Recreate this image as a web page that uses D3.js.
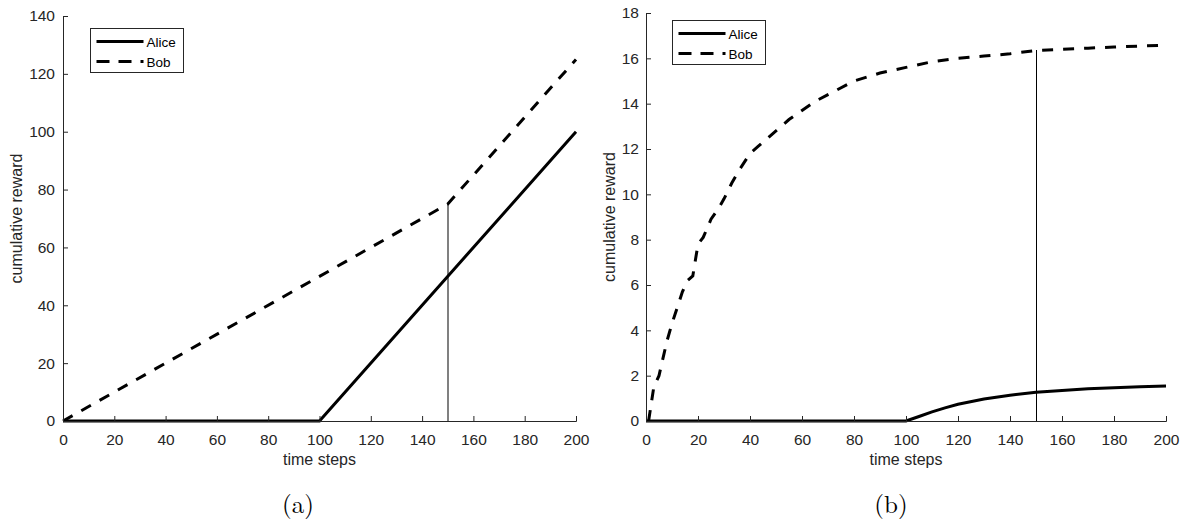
<!DOCTYPE html>
<html>
<head>
<meta charset="utf-8">
<script src="https://cdn.jsdelivr.net/npm/d3@7"></script>
<style>
  body { margin: 0; background: #fff; }
  svg { font-family: "Liberation Sans", Arial, sans-serif; }
</style>
</head>
<body>
<svg id="chart"></svg>
<script>
// panel (a)
const aliceA = [[0, 0], [100, 0], [200, 100]];
const bobA = [[0, 0], [100, 50], [150, 75], [200, 125]];
const markA = 150;

// panel (b)
const aliceBx = [0, 100, 105, 110, 115, 120, 130, 140, 150, 160, 170, 180, 190, 200];
const aliceBy = [0, 0, 0.2, 0.4, 0.58, 0.74, 0.97, 1.14, 1.27, 1.35, 1.42, 1.47, 1.51, 1.54];
const bobBx = [1, 3, 5, 8, 10, 12, 14, 16, 18, 20, 22, 25, 28, 30, 33, 36, 40, 43, 46, 50, 55, 60, 65, 70, 80, 90, 100, 110, 120, 130, 140, 150, 160, 170, 180, 190, 200];
const bobBy = [0, 1.5, 2.0, 3.5, 4.3, 5.0, 5.7, 6.2, 6.4, 7.8, 8.1, 8.9, 9.4, 9.8, 10.5, 11.1, 11.8, 12.1, 12.4, 12.8, 13.3, 13.7, 14.1, 14.4, 15.0, 15.35, 15.6, 15.85, 16.0, 16.1, 16.2, 16.35, 16.4, 16.45, 16.5, 16.54, 16.58];
const markB = 150;

const xTicks = d3.range(0, 201, 20);
const yTicksA = d3.range(0, 141, 20);
const yTicksB = d3.range(0, 19, 2);

const width = 1189, height = 520;
const svg = d3.select("#chart").attr("width", width).attr("height", height);
const axisColor = "#262626";

function panel(opts) {
  const x = d3.scaleLinear().domain([0, 200]).range([opts.left, opts.right]);
  const y = d3.scaleLinear().domain([0, opts.ymax]).range([421, opts.top]);
  const g = svg.append("g");

  const line = d3.line().x(d => x(d[0])).y(d => y(d[1]));

  // marker line at t=150
  g.append("line")
    .attr("x1", x(opts.mark)).attr("x2", x(opts.mark))
    .attr("y1", y(0)).attr("y2", y(opts.markTop))
    .attr("stroke", opts.markColor).attr("stroke-width", opts.markWidth)
    .attr("shape-rendering", "crispEdges");

  g.append("path").datum(opts.bob)
    .attr("fill", "none").attr("stroke", "#000")
    .attr("stroke-width", 3).attr("stroke-dasharray", "11,10")
    .attr("d", line);

  g.append("path").datum(opts.alice)
    .attr("fill", "none").attr("stroke", "#000")
    .attr("stroke-width", 3)
    .attr("d", line);

  const xa = g.append("g")
    .attr("transform", `translate(0,${y(0)})`)
    .call(d3.axisBottom(x).tickValues(xTicks).tickSizeInner(-5).tickSizeOuter(-5).tickPadding(13));
  const ya = g.append("g")
    .attr("transform", `translate(${x(0)},0)`)
    .call(d3.axisLeft(y).tickValues(opts.yTicks).tickSizeInner(-5).tickSizeOuter(-5).tickPadding(opts.yPad));
  [xa, ya].forEach(a => {
    a.selectAll("path, line").attr("stroke", axisColor);
    a.selectAll("text").attr("fill", axisColor).style("font-size", "15.5px");
  });

  g.append("text")
    .attr("x", (opts.left + opts.right) / 2).attr("y", 465)
    .attr("text-anchor", "middle").attr("fill", axisColor)
    .style("font-size", "16px").text("time steps");

  g.append("text")
    .attr("transform", `translate(${opts.left - opts.ylabOff},${(421 + opts.top) / 2}) rotate(-90)`)
    .attr("text-anchor", "middle").attr("fill", axisColor)
    .style("font-size", "16px").text("cumulative reward");

  g.append("text")
    .attr("x", opts.capX).attr("y", 513)
    .attr("text-anchor", "middle").attr("fill", "#000")
    .style("font-family", "'Latin Modern Roman', 'Liberation Serif', serif")
    .style("font-size", "25px").text(opts.caption);

  // legend
  const lg = g.append("g").attr("transform", `translate(${opts.legX},${opts.legY})`);
  lg.append("rect").attr("width", 93).attr("height", 44)
    .attr("fill", "#fff").attr("stroke", axisColor).attr("stroke-width", 1);
  lg.append("line").attr("x1", 6).attr("x2", 53).attr("y1", 13).attr("y2", 13)
    .attr("stroke", "#000").attr("stroke-width", 3);
  lg.append("line").attr("x1", 6).attr("x2", 53).attr("y1", 33).attr("y2", 33)
    .attr("stroke", "#000").attr("stroke-width", 3).attr("stroke-dasharray", "13,9");
  lg.append("text").attr("x", 56).attr("y", 18).attr("fill", "#000")
    .style("font-size", "13.5px").text("Alice");
  lg.append("text").attr("x", 56).attr("y", 38).attr("fill", "#000")
    .style("font-size", "13.5px").text("Bob");
}

panel({
  left: 63, right: 576, top: 16, ymax: 140, yTicks: yTicksA, yPad: 8, ylabOff: 41,
  alice: aliceA, bob: bobA, mark: markA, markTop: 75,
  markColor: "#808080", markWidth: 1.5,
  legX: 90.5, legY: 28.5, capX: 298, caption: "(a)"
});

panel({
  left: 646, right: 1166, top: 13, ymax: 18, yTicks: yTicksB, yPad: 7, ylabOff: 31,
  alice: aliceBx.map((v, i) => [v, aliceBy[i]]),
  bob: bobBx.map((v, i) => [v, bobBy[i]]),
  mark: markB, markTop: bobBy[bobBx.indexOf(markB)],
  markColor: "#000", markWidth: 1,
  legX: 672.5, legY: 20.5, capX: 891, caption: "(b)"
});
</script>
</body>
</html>
